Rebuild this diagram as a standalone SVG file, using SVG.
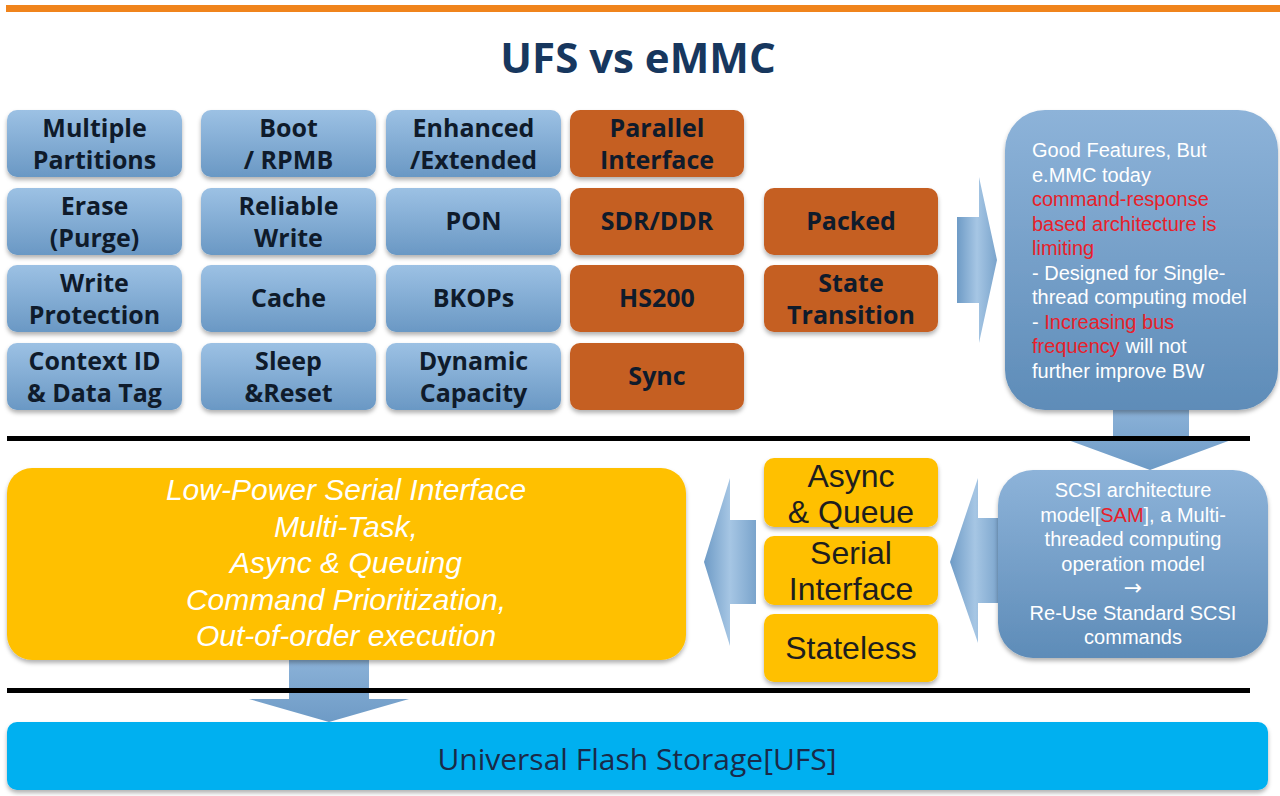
<svg xmlns="http://www.w3.org/2000/svg" width="1280" height="796" viewBox="0 0 1280 796">
<defs>
  <linearGradient id="gBlue" x1="0" y1="0" x2="0" y2="1">
    <stop offset="0" stop-color="#9CC1E4"/>
    <stop offset="1" stop-color="#6A98C4"/>
  </linearGradient>
  <linearGradient id="gCall" x1="0" y1="0" x2="0" y2="1">
    <stop offset="0" stop-color="#8DB3D9"/>
    <stop offset="1" stop-color="#5E8CB8"/>
  </linearGradient>
  <linearGradient id="gArrH" x1="0" y1="0" x2="1" y2="0">
    <stop offset="0" stop-color="#6E9BC6"/>
    <stop offset="0.5" stop-color="#A6C6E4"/>
    <stop offset="1" stop-color="#7AA4CC"/>
  </linearGradient>
  <linearGradient id="gArrV" x1="0" y1="0" x2="0" y2="1">
    <stop offset="0" stop-color="#8DB3D9"/>
    <stop offset="1" stop-color="#6E9BC6"/>
  </linearGradient>
  <filter id="sh" x="-10%" y="-10%" width="120%" height="130%">
    <feDropShadow dx="0" dy="3" stdDeviation="2" flood-color="#000" flood-opacity="0.3"/>
  </filter>
</defs>
<style>
  .blue{fill:url(#gBlue);filter:url(#sh)}
  .org{fill:#C55F24;filter:url(#sh)}
  .yel{fill:#FFC000;filter:url(#sh)}
  .bl{font-family:"Open Sans","Noto Sans",sans-serif;font-weight:bold;font-size:25px;fill:#0F1B2B;text-anchor:middle}
  .yl{font-family:"Liberation Sans",Arial,sans-serif;font-size:32px;fill:#1E1E1E;text-anchor:middle}
  .ct{font-family:"Liberation Sans",Arial,sans-serif;font-size:20px;fill:#FFFFFF}
  .arr{font-family:"DejaVu Sans",sans-serif;font-size:22px;fill:#FFFFFF}
  .red{fill:#E8202A}
  .it{font-family:"Liberation Sans",Arial,sans-serif;font-style:italic;font-size:30px;fill:#FFFFFF;text-anchor:middle}
</style>
<rect width="1280" height="796" fill="#FFFFFF"/>
<rect x="6" y="5" width="1274" height="7" fill="#F0841C"/>
<text x="638" y="73" font-family="Open Sans,Noto Sans,sans-serif" font-weight="bold" font-size="42" fill="#17375E" text-anchor="middle">UFS vs eMMC</text>

<g id="connectors">
  <path d="M957,217 H979 V177 L997,260 L979,343 V303 H957 Z" fill="url(#gArrH)"/>
  <path d="M1113,405 H1189 V440 H1231 L1150,470 L1068,440 H1113 Z" fill="url(#gArrV)"/>
  <path d="M1000,518 H978 V478 L950,562 L978,643 V603 H1000 Z" fill="url(#gArrH)"/>
  <path d="M756,520 H730 V478 L704,562 L730,646 V604 H756 Z" fill="url(#gArrH)"/>
  <path d="M289,655 H369 V699 H409 L329,722 L249,699 H289 Z" fill="url(#gArrV)"/>
</g>

<rect x="7" y="436" width="1243" height="5" fill="#000"/>
<rect x="7" y="688" width="1243" height="5" fill="#000"/>

<g id="n-multiple"><rect class="blue" x="7" y="110" width="175" height="67" rx="10"/><text class="bl" x="94.5" y="137">Multiple</text><text class="bl" x="94.5" y="169">Partitions</text></g>
<g id="n-boot"><rect class="blue" x="201" y="110" width="175" height="67" rx="10"/><text class="bl" x="288.5" y="137">Boot</text><text class="bl" x="288.5" y="169">/ RPMB</text></g>
<g id="n-enhanced"><rect class="blue" x="386" y="110" width="175" height="67" rx="10"/><text class="bl" x="473.5" y="137">Enhanced</text><text class="bl" x="473.5" y="169">/Extended</text></g>
<g id="n-parallel"><rect class="org" x="570" y="110" width="174" height="67" rx="10"/><text class="bl" x="657" y="137">Parallel</text><text class="bl" x="657" y="169">Interface</text></g>

<g id="n-erase"><rect class="blue" x="7" y="188" width="175" height="67" rx="10"/><text class="bl" x="94.5" y="215">Erase</text><text class="bl" x="94.5" y="247">(Purge)</text></g>
<g id="n-reliable"><rect class="blue" x="201" y="188" width="175" height="67" rx="10"/><text class="bl" x="288.5" y="215">Reliable</text><text class="bl" x="288.5" y="247">Write</text></g>
<g id="n-pon"><rect class="blue" x="386" y="188" width="175" height="67" rx="10"/><text class="bl" x="473.5" y="230">PON</text></g>
<g id="n-sdr"><rect class="org" x="570" y="188" width="174" height="67" rx="10"/><text class="bl" x="657" y="230">SDR/DDR</text></g>
<g id="n-packed"><rect class="org" x="764" y="188" width="174" height="67" rx="10"/><text class="bl" x="851" y="230">Packed</text></g>

<g id="n-writeprot"><rect class="blue" x="7" y="265" width="175" height="67" rx="10"/><text class="bl" x="94.5" y="292">Write</text><text class="bl" x="94.5" y="324">Protection</text></g>
<g id="n-cache"><rect class="blue" x="201" y="265" width="175" height="67" rx="10"/><text class="bl" x="288.5" y="307">Cache</text></g>
<g id="n-bkops"><rect class="blue" x="386" y="265" width="175" height="67" rx="10"/><text class="bl" x="473.5" y="307">BKOPs</text></g>
<g id="n-hs200"><rect class="org" x="570" y="265" width="174" height="67" rx="10"/><text class="bl" x="657" y="307">HS200</text></g>
<g id="n-state"><rect class="org" x="764" y="265" width="174" height="67" rx="10"/><text class="bl" x="851" y="292">State</text><text class="bl" x="851" y="324">Transition</text></g>

<g id="n-context"><rect class="blue" x="7" y="343" width="175" height="67" rx="10"/><text class="bl" x="94.5" y="370">Context ID</text><text class="bl" x="94.5" y="402">&amp; Data Tag</text></g>
<g id="n-sleep"><rect class="blue" x="201" y="343" width="175" height="67" rx="10"/><text class="bl" x="288.5" y="370">Sleep</text><text class="bl" x="288.5" y="402">&amp;Reset</text></g>
<g id="n-dynamic"><rect class="blue" x="386" y="343" width="175" height="67" rx="10"/><text class="bl" x="473.5" y="370">Dynamic</text><text class="bl" x="473.5" y="402">Capacity</text></g>
<g id="n-sync"><rect class="org" x="570" y="343" width="174" height="67" rx="10"/><text class="bl" x="657" y="385">Sync</text></g>

<g id="n-callout1">
  <rect x="1005" y="110" width="273" height="300" rx="40" fill="url(#gCall)" filter="url(#sh)"/>
  <text class="ct" x="1032" y="157">Good Features, But</text>
  <text class="ct" x="1032" y="181.5">e.MMC today</text>
  <text class="ct red" x="1032" y="206">command-response</text>
  <text class="ct red" x="1032" y="230.5">based architecture is</text>
  <text class="ct red" x="1032" y="255">limiting</text>
  <text class="ct" x="1032" y="279.5">- Designed for Single-</text>
  <text class="ct" x="1032" y="304">thread computing model</text>
  <text class="ct" x="1032" y="328.5">- <tspan class="red">Increasing bus</tspan></text>
  <text class="ct" x="1032" y="353"><tspan class="red">frequency</tspan> will not</text>
  <text class="ct" x="1032" y="377.5">further improve BW</text>
</g>

<g id="n-callout2">
  <rect x="998" y="470" width="270" height="188" rx="35" fill="url(#gCall)" filter="url(#sh)"/>
  <g text-anchor="middle">
  <text class="ct" x="1133" y="497">SCSI architecture</text>
  <text class="ct" x="1133" y="521.5">model[<tspan class="red">SAM</tspan>], a Multi-</text>
  <text class="ct" x="1133" y="546">threaded computing</text>
  <text class="ct" x="1133" y="570.5">operation model</text>
  <text class="arr" x="1133" y="595">→</text>
  <text class="ct" x="1133" y="619.5">Re-Use Standard SCSI</text>
  <text class="ct" x="1133" y="644">commands</text>
  </g>
</g>

<g id="n-async"><rect class="yel" x="764" y="458" width="174" height="69" rx="10"/><text class="yl" x="851" y="487">Async</text><text class="yl" x="851" y="523">&amp; Queue</text></g>
<g id="n-serial"><rect class="yel" x="764" y="536" width="174" height="69" rx="10"/><text class="yl" x="851" y="564">Serial</text><text class="yl" x="851" y="600">Interface</text></g>
<g id="n-stateless"><rect class="yel" x="764" y="614" width="174" height="68" rx="10"/><text class="yl" x="851" y="659">Stateless</text></g>

<g id="n-lowpower">
  <rect class="yel" x="7" y="468" width="679" height="192" rx="25"/>
  <text class="it" x="346" y="500">Low-Power Serial Interface</text>
  <text class="it" x="346" y="537">Multi-Task,</text>
  <text class="it" x="346" y="573">Async  &amp; Queuing</text>
  <text class="it" x="346" y="610">Command Prioritization,</text>
  <text class="it" x="346" y="646">Out-of-order execution</text>
</g>

<g id="n-ufs">
  <rect x="7" y="722" width="1261" height="68" rx="10" fill="#00B0F0" filter="url(#sh)"/>
  <text x="637" y="770" font-family="Open Sans,Noto Sans,sans-serif" font-size="30" fill="#1A2A48" text-anchor="middle">Universal Flash Storage[UFS]</text>
</g>
</svg>
